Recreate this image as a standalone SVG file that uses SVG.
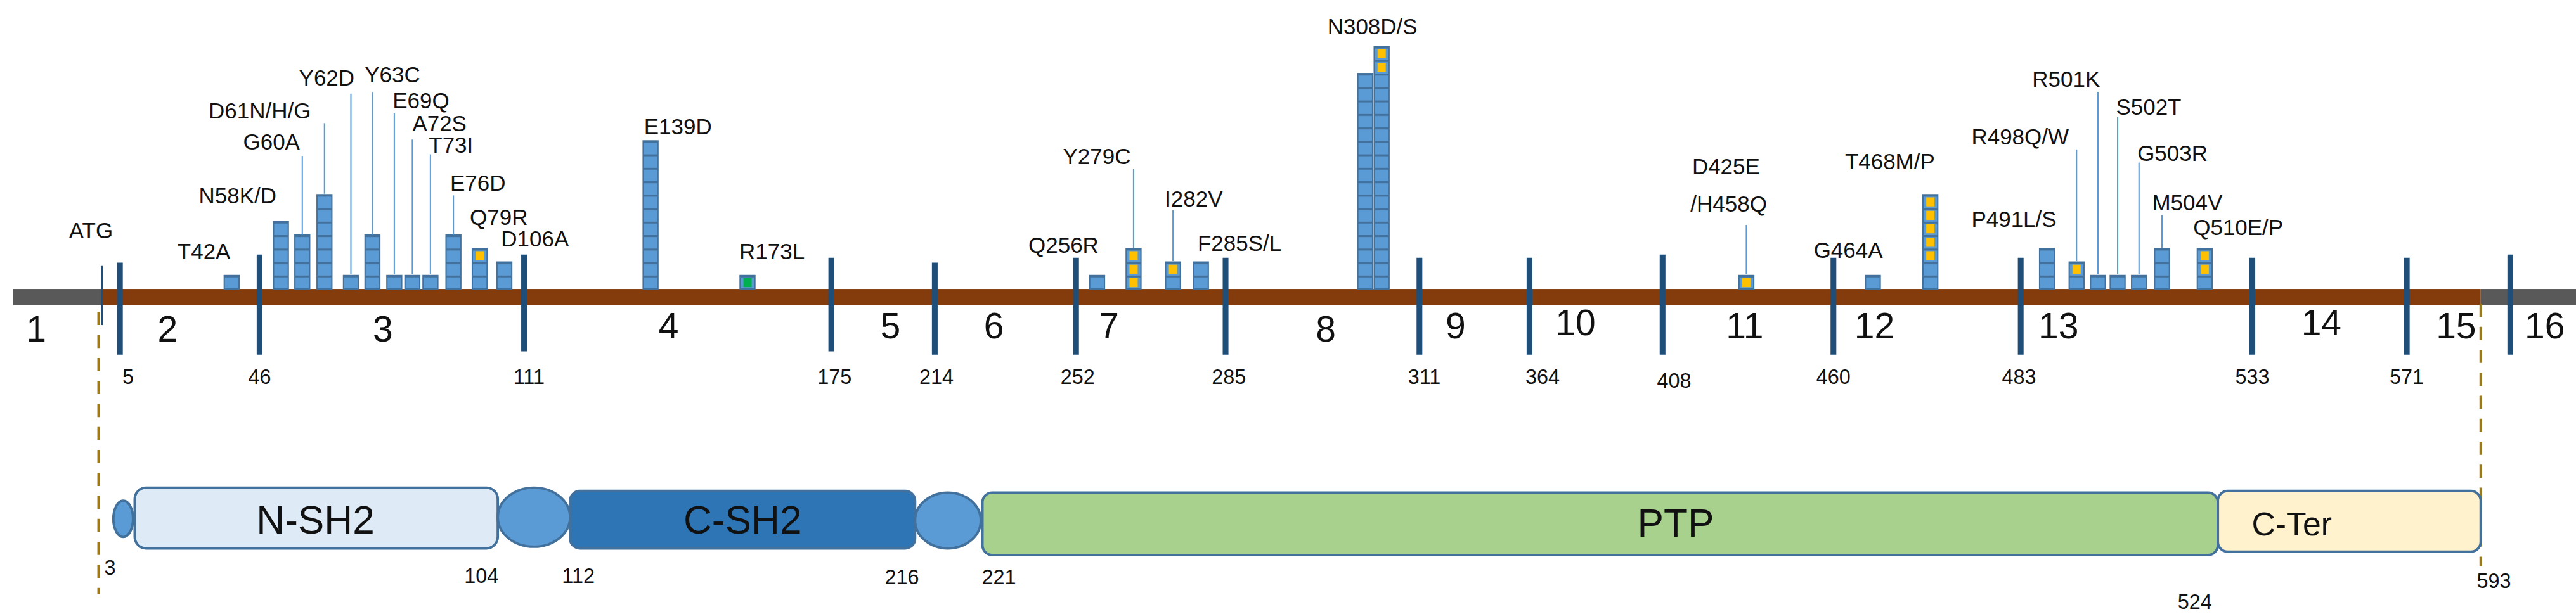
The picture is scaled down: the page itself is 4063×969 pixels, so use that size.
<svg xmlns="http://www.w3.org/2000/svg" width="4063" height="969" viewBox="0 0 4063 969">
<defs>
<pattern id="cells" patternUnits="userSpaceOnUse" x="0" y="176" width="4000" height="8.2">
<rect x="0" y="0" width="4000" height="8.2" fill="#41719c"/>
<rect x="0" y="1.2" width="4000" height="7" fill="#5b9bd5"/>
</pattern>
</defs>
<style>
text{font-family:"Liberation Sans",Arial,sans-serif;fill:#111}
.lab{font-size:13.5px}
.ex{font-size:22px;text-anchor:middle}
.pos{font-size:12.5px;text-anchor:middle}
.bd{stroke:#1f4e79;stroke-width:3.5}
.col{fill:url(#cells);stroke:#41719c;stroke-width:0.8}
.y{fill:#ffc000}
.ld{stroke:#5b9bd5;stroke-width:0.8}
.dash{stroke:#9c7a1c;stroke-width:1.5;stroke-dasharray:8 6;fill:none}
.dom{stroke:#41719c;stroke-width:1.5}
.dt{font-size:24px;text-anchor:middle}
</style>
<rect width="4063" height="969" fill="#fff"/>
<g transform="scale(2.5912)">
<g id="gene">
<rect x="8" y="176" width="54" height="10" fill="#595959"/>
<rect x="62" y="176" width="1448" height="10" fill="#843c0c"/>
<rect x="1510" y="176" width="58" height="10" fill="#595959"/>
<line x1="62" y1="162" x2="62" y2="198" stroke="#1f4e79" stroke-width="1.2"/>
<text class="lab" x="42" y="145">ATG</text>
</g>
<g id="boundaries">
<line class="bd" x1="73" y1="160" x2="73" y2="216"/>
<line class="bd" x1="158" y1="155" x2="158" y2="216"/>
<line class="bd" x1="319" y1="155" x2="319" y2="214"/>
<line class="bd" x1="506" y1="157" x2="506" y2="214"/>
<line class="bd" x1="569" y1="160" x2="569" y2="216"/>
<line class="bd" x1="655" y1="157" x2="655" y2="216"/>
<line class="bd" x1="746" y1="157" x2="746" y2="216"/>
<line class="bd" x1="864" y1="157" x2="864" y2="216"/>
<line class="bd" x1="931" y1="157" x2="931" y2="216"/>
<line class="bd" x1="1012" y1="155" x2="1012" y2="216"/>
<line class="bd" x1="1116" y1="157" x2="1116" y2="216"/>
<line class="bd" x1="1230" y1="157" x2="1230" y2="216"/>
<line class="bd" x1="1371" y1="157" x2="1371" y2="216"/>
<line class="bd" x1="1465" y1="157" x2="1465" y2="216"/>
<line class="bd" x1="1528" y1="155" x2="1528" y2="216"/>
</g>
<g id="exons">
<text class="ex" x="22" y="208">1</text><text class="ex" x="102" y="208">2</text><text class="ex" x="233" y="208">3</text><text class="ex" x="407" y="206">4</text><text class="ex" x="542" y="206">5</text><text class="ex" x="605" y="206">6</text><text class="ex" x="675" y="206">7</text><text class="ex" x="807" y="208">8</text><text class="ex" x="886" y="206">9</text><text class="ex" x="959" y="204">10</text><text class="ex" x="1062" y="206">11</text><text class="ex" x="1141" y="206">12</text><text class="ex" x="1253" y="206">13</text><text class="ex" x="1413" y="204">14</text><text class="ex" x="1495" y="206">15</text><text class="ex" x="1549" y="206">16</text>
</g>
<g id="positions">
<text class="pos" x="78" y="234">5</text><text class="pos" x="158" y="234">46</text><text class="pos" x="322" y="234">111</text><text class="pos" x="508" y="234">175</text><text class="pos" x="570" y="234">214</text><text class="pos" x="656" y="234">252</text><text class="pos" x="748" y="234">285</text><text class="pos" x="867" y="234">311</text><text class="pos" x="939" y="234">364</text><text class="pos" x="1019" y="236">408</text><text class="pos" x="1116" y="234">460</text><text class="pos" x="1229" y="234">483</text><text class="pos" x="1371" y="234">533</text><text class="pos" x="1465" y="234">571</text>
</g>
<g id="mutations">
<rect class="col" x="136.5" y="167.8" width="9" height="8.2"/>
<rect class="col" x="166.5" y="135" width="9" height="41"/>
<rect class="col" x="179.5" y="143.2" width="9" height="32.8"/>
<rect class="col" x="193" y="118.6" width="9" height="57.4"/>
<rect class="col" x="209.1" y="167.8" width="9" height="8.2"/>
<rect class="col" x="222.2" y="143.2" width="9" height="32.8"/>
<rect class="col" x="235.5" y="167.8" width="9" height="8.2"/>
<rect class="col" x="246.5" y="167.8" width="9" height="8.2"/>
<rect class="col" x="257.5" y="167.8" width="9" height="8.2"/>
<rect class="col" x="271.5" y="143.2" width="9" height="32.8"/>
<rect class="col" x="287.5" y="151.4" width="9" height="24.6"/><rect class="y" x="289.5" y="153" width="5" height="5.5"/>
<rect class="col" x="302.5" y="159.6" width="9" height="16.4"/>
<rect class="col" x="391.5" y="85.8" width="9" height="90.2"/>
<rect class="col" x="450.5" y="167.8" width="9" height="8.2"/><rect x="452.5" y="169.4" width="5" height="5.5" fill="#00b050"/>
<rect class="col" x="663.3" y="167.8" width="9" height="8.2"/>
<rect class="col" x="685.5" y="151.4" width="9" height="24.6"/><rect class="y" x="687.5" y="153" width="5" height="5.5"/><rect class="y" x="687.5" y="161.2" width="5" height="5.5"/><rect class="y" x="687.5" y="169.4" width="5" height="5.5"/>
<rect class="col" x="709.5" y="159.6" width="9" height="16.4"/><rect class="y" x="711.5" y="161.2" width="5" height="5.5"/>
<rect class="col" x="726.5" y="159.6" width="9" height="16.4"/>
<rect class="col" x="826.5" y="44.8" width="9" height="131.2"/>
<rect class="col" x="836.5" y="28.4" width="9" height="147.6"/><rect class="y" x="838.5" y="30" width="5" height="5.5"/><rect class="y" x="838.5" y="38.2" width="5" height="5.5"/>
<rect class="col" x="1058.5" y="167.8" width="9" height="8.2"/><rect class="y" x="1060.5" y="169.4" width="5" height="5.5"/>
<rect class="col" x="1135.5" y="167.8" width="9" height="8.2"/>
<rect class="col" x="1170.5" y="118.6" width="9" height="57.4"/><rect class="y" x="1172.5" y="120.2" width="5" height="5.5"/><rect class="y" x="1172.5" y="128.4" width="5" height="5.5"/><rect class="y" x="1172.5" y="136.6" width="5" height="5.5"/><rect class="y" x="1172.5" y="144.8" width="5" height="5.5"/><rect class="y" x="1172.5" y="153" width="5" height="5.5"/>
<rect class="col" x="1241.5" y="151.4" width="9" height="24.6"/>
<rect class="col" x="1259.5" y="159.6" width="9" height="16.4"/><rect class="y" x="1261.5" y="161.2" width="5" height="5.5"/>
<rect class="col" x="1272.5" y="167.8" width="9" height="8.2"/>
<rect class="col" x="1284.5" y="167.8" width="9" height="8.2"/>
<rect class="col" x="1297.5" y="167.8" width="9" height="8.2"/>
<rect class="col" x="1311.5" y="151.4" width="9" height="24.6"/>
<rect class="col" x="1337.5" y="151.4" width="9" height="24.6"/><rect class="y" x="1339.5" y="153" width="5" height="5.5"/><rect class="y" x="1339.5" y="161.2" width="5" height="5.5"/>
</g>
<g id="leaders">
<line class="ld" x1="184" y1="95" x2="184" y2="143"/>
<line class="ld" x1="197.5" y1="75" x2="197.5" y2="118"/>
<line class="ld" x1="213.6" y1="57" x2="213.6" y2="167"/>
<line class="ld" x1="226.7" y1="56" x2="226.7" y2="143"/>
<line class="ld" x1="240" y1="69" x2="240" y2="167"/>
<line class="ld" x1="251" y1="85" x2="251" y2="167"/>
<line class="ld" x1="262" y1="94" x2="262" y2="167"/>
<line class="ld" x1="276" y1="119" x2="276" y2="143"/>
<line class="ld" x1="690" y1="103" x2="690" y2="151"/>
<line class="ld" x1="714" y1="128" x2="714" y2="159"/>
<line class="ld" x1="1063" y1="137" x2="1063" y2="167"/>
<line class="ld" x1="1264" y1="91" x2="1264" y2="159"/>
<line class="ld" x1="1277" y1="56" x2="1277" y2="167"/>
<line class="ld" x1="1289" y1="71" x2="1289" y2="167"/>
<line class="ld" x1="1302" y1="99" x2="1302" y2="167"/>
<line class="ld" x1="1316" y1="131" x2="1316" y2="151"/>
</g>
<g id="labels">
<text class="lab" x="108" y="158">T42A</text>
<text class="lab" x="121" y="124">N58K/D</text>
<text class="lab" x="148" y="91">G60A</text>
<text class="lab" x="127" y="72">D61N/H/G</text>
<text class="lab" x="182" y="52">Y62D</text>
<text class="lab" x="222" y="50">Y63C</text>
<text class="lab" x="239" y="66">E69Q</text>
<text class="lab" x="251" y="80">A72S</text>
<text class="lab" x="261" y="93">T73I</text>
<text class="lab" x="274" y="116">E76D</text>
<text class="lab" x="286" y="137">Q79R</text>
<text class="lab" x="305" y="150">D106A</text>
<text class="lab" x="392" y="82">E139D</text>
<text class="lab" x="450" y="158">R173L</text>
<text class="lab" x="626" y="154">Q256R</text>
<text class="lab" x="647" y="100">Y279C</text>
<text class="lab" x="709" y="126">I282V</text>
<text class="lab" x="729" y="153">F285S/L</text>
<text class="lab" x="808" y="21">N308D/S</text>
<text class="lab" x="1030" y="106">D425E</text>
<text class="lab" x="1029" y="129">/H458Q</text>
<text class="lab" x="1104" y="157">G464A</text>
<text class="lab" x="1123" y="103">T468M/P</text>
<text class="lab" x="1200" y="138">P491L/S</text>
<text class="lab" x="1200" y="88">R498Q/W</text>
<text class="lab" x="1237" y="53">R501K</text>
<text class="lab" x="1288" y="70">S502T</text>
<text class="lab" x="1301" y="98">G503R</text>
<text class="lab" x="1310" y="128">M504V</text>
<text class="lab" x="1335" y="143">Q510E/P</text>
</g>
<g id="connectors">
<line class="dash" x1="60" y1="190" x2="60" y2="362"/>
<line class="dash" x1="1510" y1="185" x2="1510" y2="345"/>
</g>
<g id="domains">
<ellipse class="dom" cx="75" cy="316" rx="6" ry="11" fill="#5b9bd5"/>
<rect id="nsh2" class="dom" x="82" y="297" width="221" height="37" rx="7" fill="#deebf7"/>
<text class="dt" x="192" y="325">N-SH2</text>
<ellipse class="dom" cx="325" cy="315" rx="22" ry="18" fill="#5b9bd5"/>
<rect id="csh2" class="dom" x="347" y="299" width="210" height="35" rx="6" fill="#2e75b6"/>
<text class="dt" x="452" y="325">C-SH2</text>
<ellipse class="dom" cx="577" cy="317" rx="20" ry="17" fill="#5b9bd5"/>
<rect id="ptp" class="dom" x="598" y="300" width="752" height="38" rx="6" fill="#a9d18e"/>
<text class="dt" x="1020" y="327">PTP</text>
<rect id="cter" class="dom" x="1350" y="299" width="160" height="37" rx="6" fill="#fff2cc"/>
<text class="dt" x="1395" y="326" style="font-size:20px">C-Ter</text>
</g>
<g id="domain-positions">
<text class="pos" x="67" y="350">3</text><text class="pos" x="293" y="355">104</text><text class="pos" x="352" y="355">112</text><text class="pos" x="549" y="356">216</text><text class="pos" x="608" y="356">221</text><text class="pos" x="1336" y="371">524</text><text class="pos" x="1518" y="358">593</text>
</g>
</g>
</svg>
